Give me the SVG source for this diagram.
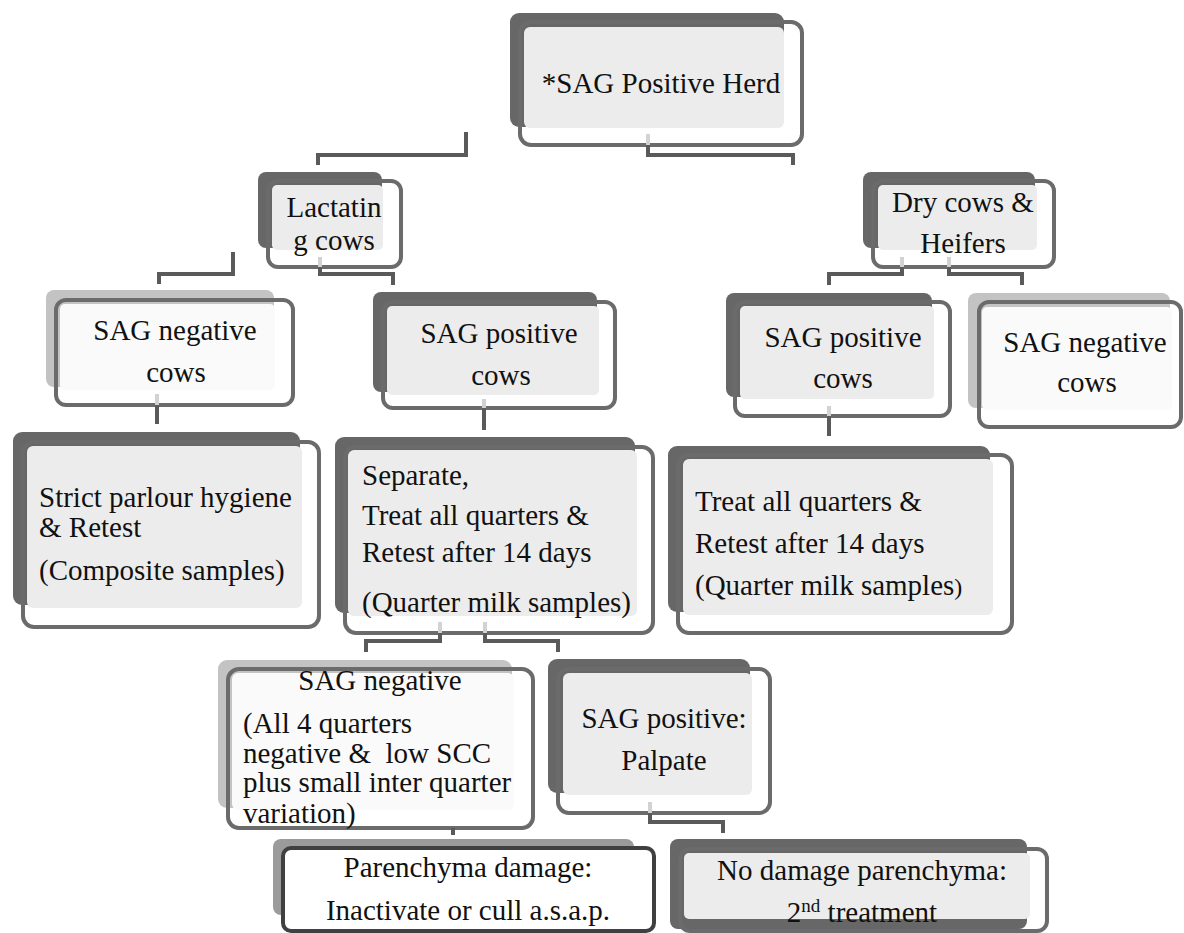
<svg xmlns="http://www.w3.org/2000/svg" width="1184" height="933" viewBox="0 0 1184 933">
<style>
.bd{fill:#676767}
.bl{fill:#c3c3c3}
.bm{fill:#9b9b9b}
.fd{fill:#ececec}
.fl{fill:#fafafa}
.ol{fill:none;stroke:#6b6b6b;stroke-width:4}
.ok{fill:#fff;stroke:#404040;stroke-width:4}
text{font-family:'Liberation Serif','DejaVu Serif',serif;font-size:29px;fill:#111}
.m{text-anchor:middle}
.c{fill:none;stroke:#5a5a5a;stroke-width:4}
.cl{fill:none;stroke:#d2d2d2;stroke-width:4}
</style>
<rect width="1184" height="933" fill="#fff"/>
<g id="n-herd">
<rect class="bd" x="510" y="13" width="274" height="114" rx="9"/>
<rect class="fd" x="524" y="27" width="260" height="101" rx="6"/>
<rect class="ol" x="520" y="22" width="282" height="123" rx="11"/>
<text class="m" x="661" y="93" font-family="Liberation Serif, serif">*SAG Positive Herd</text>
</g>
<g id="n-lactating">
<rect class="bd" x="258" y="172" width="124" height="76" rx="8"/>
<rect class="fd" x="272" y="185" width="111" height="65" rx="5"/>
<rect class="ol" x="268" y="181" width="133" height="86" rx="10"/>
<text class="m" x="334" y="217">Lactatin</text>
<text class="m" x="334" y="250">g cows</text>
</g>
<g id="n-dry">
<rect class="bd" x="863" y="172" width="172" height="76" rx="8"/>
<rect class="fd" x="878" y="185" width="159" height="65" rx="5"/>
<rect class="ol" x="873" y="181" width="181" height="86" rx="10"/>
<text class="m" x="963" y="212">Dry cows &amp;</text>
<text class="m" x="963" y="253">Heifers</text>
</g>
<g id="n-neg-lact">
<rect class="bl" x="46" y="290" width="228" height="97" rx="8"/>
<rect class="fl" x="60" y="304" width="215" height="86" rx="5"/>
<rect class="ol" x="56" y="300" width="237" height="105" rx="10"/>
<text class="m" x="175" y="340">SAG negative</text>
<text class="m" x="176" y="382">cows</text>
</g>
<g id="n-pos-lact">
<rect class="bd" x="373" y="292" width="224" height="100" rx="8"/>
<rect class="fd" x="387" y="306" width="212" height="89" rx="5"/>
<rect class="ol" x="383" y="302" width="232" height="106" rx="10"/>
<text class="m" x="499" y="343">SAG positive</text>
<text class="m" x="501" y="385">cows</text>
</g>
<g id="n-pos-dry">
<rect class="bd" x="726" y="293" width="206" height="104" rx="8"/>
<rect class="fd" x="740" y="306" width="194" height="93" rx="5"/>
<rect class="ol" x="735" y="302" width="215" height="114" rx="10"/>
<text class="m" x="843" y="347">SAG positive</text>
<text class="m" x="843" y="388">cows</text>
</g>
<g id="n-neg-dry">
<rect class="bl" x="968" y="293" width="202" height="115" rx="8"/>
<rect class="fl" x="982" y="307" width="190" height="103" rx="5"/>
<rect class="ol" x="979" y="302" width="202" height="125" rx="10"/>
<text class="m" x="1085" y="352">SAG negative</text>
<text class="m" x="1087" y="392">cows</text>
</g>
<g id="n-strict">
<rect class="bd" x="13" y="432" width="287" height="173" rx="9"/>
<rect class="fd" x="27" y="446" width="275" height="162" rx="6"/>
<rect class="ol" x="23" y="442" width="296" height="185" rx="11"/>
<text x="39" y="507">Strict parlour hygiene</text>
<text x="39" y="537">&amp; Retest</text>
<text x="39" y="580">(Composite samples)</text>
</g>
<g id="n-separate">
<rect class="bd" x="335" y="437" width="300" height="176" rx="9"/>
<rect class="fd" x="348" y="450" width="289" height="166" rx="6"/>
<rect class="ol" x="345" y="447" width="308" height="186" rx="11"/>
<text x="362" y="485">Separate,</text>
<text x="362" y="525">Treat all quarters &amp;</text>
<text x="362" y="562">Retest after 14 days</text>
<text x="362" y="612">(Quarter milk samples)</text>
</g>
<g id="n-treat">
<rect class="bd" x="668" y="446" width="322" height="166" rx="9"/>
<rect class="fd" x="683" y="459" width="310" height="156" rx="6"/>
<rect class="ol" x="678" y="455" width="334" height="178" rx="11"/>
<text x="695" y="511">Treat all quarters &amp;</text>
<text x="695" y="553">Retest after 14 days</text>
<text x="695" y="595">(Quarter milk samples<tspan font-size="24">)</tspan></text>
</g>
<g id="n-neg-retest">
<rect class="bl" x="218" y="660" width="294" height="148" rx="9"/>
<rect class="fl" x="232" y="673" width="282" height="137" rx="6"/>
<rect class="ol" x="228" y="669" width="305" height="159" rx="11"/>
<text class="m" x="380" y="690">SAG negative</text>
<text x="243" y="733">(All 4 quarters</text>
<text x="243" y="763" xml:space="preserve">negative &amp;  low SCC</text>
<text x="243" y="792">plus small inter quarter</text>
<text x="243" y="823">variation)</text>
</g>
<g id="n-palpate">
<rect class="bd" x="548" y="659" width="202" height="134" rx="9"/>
<rect class="fd" x="563" y="673" width="189" height="122" rx="6"/>
<rect class="ol" x="558" y="669" width="212" height="144" rx="11"/>
<text class="m" x="664" y="728">SAG positive:</text>
<text class="m" x="664" y="770">Palpate</text>
</g>
<g id="n-parenchyma">
<rect class="bm" x="273" y="839" width="361" height="76" rx="8"/>
<rect class="ok" x="283" y="848" width="371" height="83" rx="8"/>
<text class="m" x="468" y="877">Parenchyma damage:</text>
<text class="m" x="468" y="920">Inactivate or cull a.s.a.p.</text>
</g>
<g id="n-nodamage">
<rect class="bd" x="670" y="839" width="357" height="90" rx="8"/>
<rect class="fd" x="684" y="853" width="346" height="66" rx="5"/>
<rect class="ol" x="680" y="849" width="367" height="82" rx="10"/>
<text class="m" x="862" y="880">No damage parenchyma:</text>
<text class="m" x="862" y="922">2<tspan font-size="19" dy="-10">nd</tspan><tspan dy="10"> treatment</tspan></text>
</g>
<g id="connectors">
<path class="c" d="M466,132 V155 H318 V165"/>
<path class="cl" d="M648,134 V145"/>
<path class="c" d="M648,145 V155 H793 V165"/>
<path class="c" d="M233,252 V274 H159 V284"/>
<path class="cl" d="M320,257 V267"/>
<path class="c" d="M320,267 V274 H393 V285"/>
<path class="cl" d="M902,257 V267"/>
<path class="c" d="M902,267 V274 H829 V285"/>
<path class="cl" d="M949,257 V267"/>
<path class="c" d="M949,267 V274 H1022 V285"/>
<path class="cl" d="M157,394 V405"/>
<path class="c" d="M157,405 V424"/>
<path class="cl" d="M484,399 V408"/>
<path class="c" d="M484,408 V430"/>
<path class="cl" d="M829,406 V416"/>
<path class="c" d="M829,416 V436"/>
<path class="cl" d="M440,622 V633"/>
<path class="c" d="M440,633 V641 H366 V652"/>
<path class="cl" d="M485,622 V633"/>
<path class="c" d="M485,633 V641 H558 V652"/>
<path class="c" d="M453,828 V835"/>
<path class="cl" d="M650,802 V813"/>
<path class="c" d="M650,813 V822 H723 V833"/>
</g>
</svg>
